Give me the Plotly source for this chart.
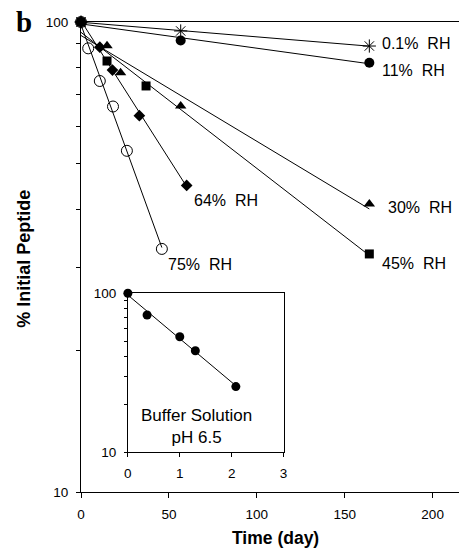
import numpy as np
import plotly.graph_objects as go

# ---- data ----
time_01 = [0, 56.7, 164]
pct_01 = [100, 95.7, 88.9]
time_11 = [0, 56.7, 164]
pct_11 = [100, 91.3, 81.9]
time_30 = [0, 14.8, 22.5, 56.7, 164]
pct_30 = [100, 89.0, 78.0, 66.3, 41.0]
time_45 = [0, 14.8, 37.0, 164]
pct_45 = [100, 82.6, 73.1, 32.1]
time_64 = [0, 10.7, 17.9, 33.2, 60.1]
pct_64 = [100, 88.4, 79.0, 63.2, 44.9]
time_75 = [0, 4.1, 10.7, 18.2, 26.1, 46.0]
pct_75 = [100, 87.9, 74.9, 66.1, 53.2, 32.9]

time_buf = [0, 0.37, 1.0, 1.3, 2.08]
pct_buf = [100, 73.0, 53.3, 43.5, 25.9]

labels = ["0.1%  RH", "11%  RH", "30%  RH", "45%  RH", "64%  RH", "75%  RH"]

main_xticks = [0, 50, 100, 150, 200]
inset_xticks = [0, 1, 2, 3]
y_tickvals = [10, 20, 30, 40, 50, 60, 70, 80, 90, 100]
y_ticktext = ["10", "", "", "", "", "", "", "", "", "100"]

FONT = "Liberation Sans, Arial, sans-serif"

series = [
    (time_01, pct_01, dict(symbol="asterisk-open", size=11, color="black", line=dict(color="black", width=1))),
    (time_11, pct_11, dict(symbol="circle", size=10, color="black")),
    (time_30, pct_30, dict(symbol="triangle-up", size=10, color="black")),
    (time_45, pct_45, dict(symbol="square", size=9, color="black")),
    (time_64, pct_64, dict(symbol="diamond", size=9, color="black")),
    (time_75, pct_75, dict(symbol="circle-open", size=11, color="black", line=dict(color="black", width=1))),
]

fig = go.Figure()


def fit_line(t, p):
    coef = np.polyfit(np.array(t, float), np.log10(np.array(p, float)), 1)
    xs = np.array([0.0, t[-1]])
    return xs, 10 ** np.polyval(coef, xs)


for t, p, mk in series:
    fx, fy = fit_line(t, p)
    fig.add_trace(go.Scatter(x=fx, y=fy, mode="lines", line=dict(color="black", width=1),
                             showlegend=False, hoverinfo="skip", cliponaxis=False))
    fig.add_trace(go.Scatter(x=t, y=p, mode="markers", marker=mk, showlegend=False,
                             cliponaxis=False))

# inset
fx, fy = fit_line(time_buf, pct_buf)
fig.add_trace(go.Scatter(x=fx, y=fy, mode="lines", line=dict(color="black", width=1),
                         showlegend=False, xaxis="x2", yaxis="y2", cliponaxis=False))
fig.add_trace(go.Scatter(x=time_buf, y=pct_buf, mode="markers",
                         marker=dict(symbol="circle", size=9, color="black"),
                         showlegend=False, xaxis="x2", yaxis="y2", cliponaxis=False))

# label offsets (pixels) relative to last point of each series
offsets = [(11, 3), (11, -8), (17, -4), (11, -10), (5, -15), (4, -16)]
annotations = []
for (t, p, _), lab, (dx, dy) in zip(series, labels, offsets):
    annotations.append(dict(x=t[-1], y=np.log10(p[-1]), xref="x", yref="y", text=lab,
                            showarrow=False, xanchor="left", yanchor="middle",
                            xshift=dx, yshift=dy,
                            font=dict(family=FONT, size=16, color="black")))

annotations += [
    dict(x=1.33, y=np.log10(14.5), xref="x2", yref="y2", text="Buffer Solution<br>pH 6.5",
         showarrow=False, xanchor="center", yanchor="middle", align="center",
         font=dict(family=FONT, size=17, color="black")),
    dict(x=-0.178, y=1.0, xref="paper", yref="paper", text="<b>b</b>", showarrow=False,
         xanchor="left", yanchor="middle",
         font=dict(family="Liberation Serif, Times New Roman, serif", size=29, color="black")),
    dict(x=-0.151, y=0.496, xref="paper", yref="paper", text="<b>% Initial Peptide</b>",
         showarrow=False, textangle=-90, xanchor="center", yanchor="middle",
         font=dict(family=FONT, size=18, color="black")),
    dict(x=0.514, y=-0.098, xref="paper", yref="paper", text="<b>Time (day)</b>",
         showarrow=False, xanchor="center", yanchor="middle",
         font=dict(family=FONT, size=17.5, color="black")),
]

common_line = dict(showline=True, linecolor="black", linewidth=1, showgrid=False,
                   zeroline=False, tickcolor="black", tickwidth=1)

fig.update_layout(
    width=463, height=552,
    margin=dict(l=81, r=0, t=22, b=60),
    paper_bgcolor="white", plot_bgcolor="white",
    font=dict(family=FONT, size=13.5, color="black"),
    xaxis=dict(range=[0, 215], tickvals=main_xticks, ticks="outside", ticklen=5,
               mirror=True, tickfont=dict(size=13.5), ticklabelstandoff=5, **common_line),
    yaxis=dict(type="log", range=[1, 2], tickvals=y_tickvals, ticktext=y_ticktext,
               ticks="outside", ticklen=4, tickfont=dict(size=13.5), ticklabelstandoff=5,
               **common_line),
    xaxis2=dict(domain=[0.124, 0.536], anchor="y2", range=[0, 3], tickvals=inset_xticks,
                ticks="outside", ticklen=4, mirror=True, tickfont=dict(size=13.5),
                ticklabelstandoff=5, **common_line),
    yaxis2=dict(domain=[0.0845, 0.4228], anchor="x2", type="log", range=[1, 2],
                tickvals=y_tickvals, ticktext=y_ticktext,
                ticks="outside", ticklen=3, mirror=True, tickfont=dict(size=13.5),
                ticklabelstandoff=5, **common_line),
    annotations=annotations,
)

fig.write_html("out.html")
